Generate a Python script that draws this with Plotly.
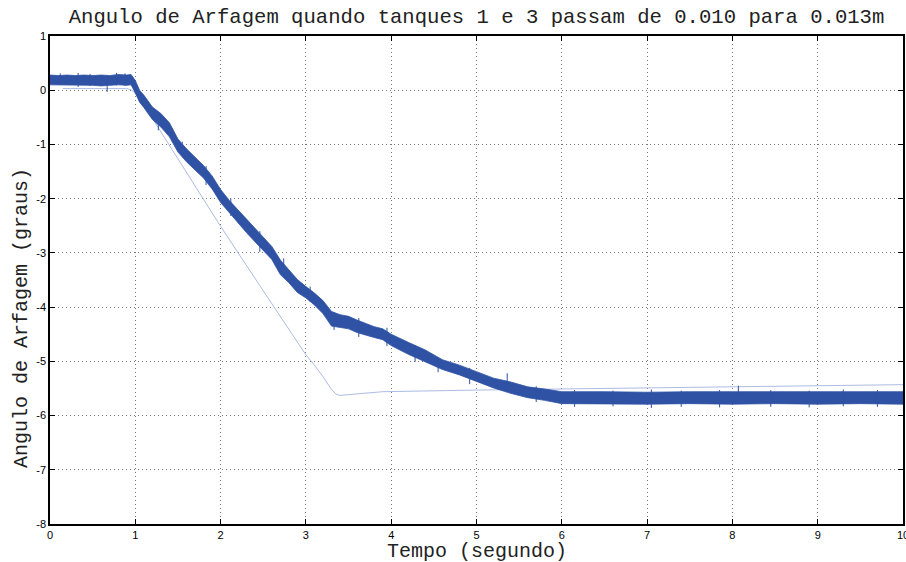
import plotly.graph_objects as go

# Measured pitch angle: noise band (upper / lower edge) over time
t_meas = [0.0, 0.1, 0.2, 0.3, 0.4, 0.5, 0.6, 0.7, 0.8, 0.9, 0.95, 1.0, 1.05, 1.1,
          1.2, 1.3, 1.4, 1.5, 1.6, 1.7, 1.8, 1.9, 2.0, 2.1, 2.2, 2.3, 2.4, 2.5,
          2.6, 2.7, 2.8, 2.9, 3.0, 3.1, 3.2, 3.3, 3.4, 3.5, 3.6, 3.7, 3.8, 3.9,
          4.0, 4.2, 4.4, 4.6, 4.8, 5.0, 5.2, 5.4, 5.6, 5.8, 6.0, 6.5, 7.0, 7.5,
          8.0, 8.5, 9.0, 9.5, 10.0]
meas_upper = [0.28, 0.27, 0.28, 0.27, 0.28, 0.27, 0.28, 0.27, 0.29, 0.28, 0.29, 0.18, 0.00, -0.09,
              -0.31, -0.43, -0.60, -0.90, -1.08, -1.23, -1.39, -1.58, -1.83, -2.03, -2.20, -2.38, -2.55, -2.72,
              -2.88, -3.13, -3.31, -3.49, -3.62, -3.74, -3.88, -4.08, -4.14, -4.17, -4.24, -4.30, -4.36, -4.40,
              -4.50, -4.65, -4.79, -4.97, -5.07, -5.19, -5.31, -5.38, -5.47, -5.51, -5.56, -5.56, -5.57, -5.56,
              -5.56, -5.57, -5.56, -5.57, -5.56]
meas_lower = [0.10, 0.09, 0.09, 0.10, 0.09, 0.09, 0.08, 0.09, 0.10, 0.09, 0.10, -0.05, -0.22, -0.32,
              -0.54, -0.68, -0.86, -1.14, -1.32, -1.47, -1.62, -1.82, -2.07, -2.27, -2.44, -2.62, -2.79, -2.96,
              -3.12, -3.40, -3.55, -3.73, -3.83, -3.96, -4.12, -4.35, -4.37, -4.40, -4.47, -4.51, -4.56, -4.60,
              -4.71, -4.87, -5.01, -5.15, -5.25, -5.37, -5.49, -5.59, -5.67, -5.72, -5.78, -5.79, -5.79, -5.78,
              -5.79, -5.78, -5.79, -5.78, -5.79]

# Isolated spikes sticking out of the measured band
spike_t = [0.12, 0.33, 0.47, 0.67, 0.78, 0.88, 1.27, 1.55, 1.83, 2.12, 2.46, 2.74,
           3.05, 3.33, 3.62, 3.95, 4.28, 4.55, 4.92, 5.36, 5.7, 6.15, 6.6, 7.05,
           7.4, 7.85, 8.07, 8.45, 8.9, 9.3, 9.7]
spike_top = [0.31, 0.32, 0.30, 0.20, 0.32, 0.31, -0.40, -0.95, -1.40, -2.00, -2.60, -3.10,
             -3.62, -4.10, -4.20, -4.38, -4.70, -4.95, -5.12, -5.22, -5.46, -5.53, -5.54, -5.52,
             -5.54, -5.53, -5.45, -5.53, -5.54, -5.52, -5.53]
spike_bottom = [0.10, 0.06, 0.08, -0.03, 0.09, 0.08, -0.74, -1.20, -1.75, -2.32, -2.98, -3.45,
                -3.90, -4.42, -4.55, -4.72, -5.01, -5.20, -5.42, -5.40, -5.75, -5.84, -5.83, -5.86,
                -5.84, -5.85, -5.62, -5.84, -5.85, -5.83, -5.84]

# Simulated pitch angle
t_sim = [0.15, 0.5, 0.9, 0.95, 1.0, 1.05, 1.1, 1.2, 1.5, 2.0, 2.5, 2.9, 3.0, 3.1, 3.2,
         3.3, 3.35, 3.4, 3.5, 3.6, 3.9, 4.5, 5.0, 6.0, 7.0, 8.0, 9.0, 10.0]
sim_angle = [0.03, 0.03, 0.03, 0.01, -0.06, -0.15, -0.26, -0.52, -1.27, -2.51, -3.70, -4.65, -4.88, -5.07, -5.28,
             -5.52, -5.60, -5.63, -5.62, -5.60, -5.56, -5.55, -5.53, -5.51, -5.49, -5.47, -5.45, -5.43]

x_ticks = list(range(0, 11))
x_ticktext = [str(v) for v in x_ticks]
y_ticks = list(range(-8, 2))
y_ticktext = [str(v) for v in y_ticks]

MEAS_COLOR = "#2F52A4"
SIM_COLOR = "#AEBBE3"

fig = go.Figure()

# simulated response (thin, light)
fig.add_trace(go.Scatter(x=t_sim, y=sim_angle, mode="lines",
                         line=dict(color=SIM_COLOR, width=1), hoverinfo="skip"))

# measured response as a filled noise band
band_x = t_meas + t_meas[::-1]
band_y = meas_upper + meas_lower[::-1]
fig.add_trace(go.Scatter(x=band_x, y=band_y, mode="lines", fill="toself",
                         fillcolor=MEAS_COLOR, line=dict(color=MEAS_COLOR, width=0.8),
                         hoverinfo="skip"))

# spikes
sx, sy = [], []
for t, a, b in zip(spike_t, spike_top, spike_bottom):
    sx += [t, t, None]
    sy += [b, a, None]
fig.add_trace(go.Scatter(x=sx, y=sy, mode="lines",
                         line=dict(color=MEAS_COLOR, width=1), hoverinfo="skip"))

axis_common = dict(
    showline=True, linecolor="black", linewidth=1.5, mirror="ticks",
    ticks="inside", ticklen=5, tickwidth=1, tickcolor="black",
    showgrid=True, gridcolor="#777777", griddash="1px,3px", gridwidth=1,
    zeroline=False, ticklabeloverflow="allow", automargin=False,
    tickfont=dict(family="Liberation Sans, Arial, sans-serif", size=11, color="black"),
)

fig.update_xaxes(range=[0, 10], tickvals=x_ticks, ticktext=x_ticktext, **axis_common)
fig.update_yaxes(range=[-8, 1], tickvals=y_ticks, ticktext=y_ticktext, **axis_common)

mono = "Liberation Mono, Courier New, monospace"
TEXT_COLOR = "#222222"

fig.update_layout(
    width=906, height=562,
    margin=dict(l=50, r=3, t=36, b=38, autoexpand=False),
    paper_bgcolor="white", plot_bgcolor="white",
    showlegend=False,
    title=dict(text="Angulo de Arfagem quando tanques 1 e 3 passam de 0.010 para 0.013m",
               font=dict(family=mono, size=20.6, color=TEXT_COLOR),
               x=0.5, xref="paper", xanchor="center",
               y=1 - 16 / 562, yref="container", yanchor="middle"),
    annotations=[
        dict(text="Tempo (segundo)", xref="paper", yref="paper",
             x=0.5, y=(524 - 551) / 488, xanchor="center", yanchor="middle",
             showarrow=False, font=dict(family=mono, size=20, color=TEXT_COLOR)),
        dict(text="Angulo de Arfagem (graus)", xref="paper", yref="paper",
             x=(22 - 50) / 853, y=(524 - 318) / 488, xanchor="center", yanchor="middle",
             textangle=-90, showarrow=False,
             font=dict(family=mono, size=20, color=TEXT_COLOR)),
    ],
)

fig.write_html("out.html")
